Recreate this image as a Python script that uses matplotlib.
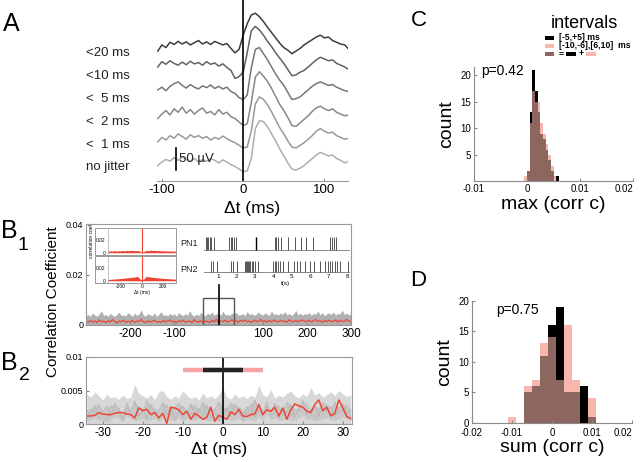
import numpy as np
import matplotlib
matplotlib.use('Agg')
import matplotlib.pyplot as plt
from matplotlib.patches import Rectangle

plt.rcParams['font.family'] = ['Liberation Sans', 'DejaVu Sans']
plt.rcParams['axes.unicode_minus'] = False

# ---------------- data ----------------
# Panel A: averaged LFP traces (uV relative to each trace baseline), lag in ms
lag_a = np.arange(-105, 131, 5)
jitter_labels = ['<20 ms', '<10 ms', '<  5 ms', '<  2 ms', '<  1 ms', 'no jitter']
trace_20 = [-12, 2, -4, 8, 3, 10, 4, 9, 2, 7, 12, 4, 9, 3, 10, 6, 2, 5, -6, -16, -8, 24, 50, 70,
            74, 66, 55, 42, 30, 18, 6, -4, -10, -18, -12, -6, 2, 8, 14, 20, 24, 18, 20, 12, 8, 4, 2, -8]
trace_10 = [-2, 10, 4, 12, 6, 2, 9, 3, 11, 5, 8, 2, 10, 4, 7, 0, 5, -3, -10, -28, -24, -14, 30, 80,
            90, 82, 70, 56, 44, 30, 18, 6, -8, -22, -20, -14, -10, -2, 6, 14, 20, 16, 12, 14, 6, 2, -2, -8]
trace_5 = [0, 6, -2, 8, 14, 18, 10, 4, 12, 6, 2, 9, 5, 11, 3, 8, 2, 6, -4, -8, -18, -22, -12, 50,
           92, 96, 82, 68, 52, 36, 22, 10, -6, -22, -20, -16, -8, 0, 8, 14, 18, 14, 10, 12, 6, 2, -2, -4]
trace_2 = [-6, 4, 12, 2, 16, 8, 20, 6, 14, 4, 12, 18, 6, 10, 2, 14, 4, 8, -2, -6, -14, -22, -18, 30,
           88, 100, 90, 78, 62, 44, 26, 12, -4, -22, -24, -16, -8, 0, 10, 18, 22, 16, 12, 16, 8, 4, 0, 2]
trace_1 = [-4, 6, 0, 10, 4, 14, 8, 2, 12, 6, 10, 4, 8, 0, 6, 2, 9, 3, -2, -6, -12, -18, -16, 20,
           82, 98, 92, 80, 64, 46, 28, 14, -2, -16, -18, -12, -6, 2, 10, 20, 26, 20, 16, 18, 10, 6, 2, 4]
trace_0 = [-6, 2, 8, 4, 12, 6, 14, 8, 4, 10, 2, 8, 4, 10, 6, 0, 7, 2, -4, -8, -14, -20, -18, 10,
           78, 96, 94, 82, 66, 50, 32, 16, 0, -14, -16, -12, -6, 2, 10, 18, 24, 20, 16, 18, 10, 6, 0, 4]
traces = [trace_20, trace_10, trace_5, trace_2, trace_1, trace_0]
trace_offsets = [307, 261, 207, 148, 93, 41]
trace_colors = ['#3a3f40', '#5d6364', '#72787a', '#84898b', '#969b9d', '#abafb1']

# Panel B1: correlation coefficient vs lag (ms)
lag_b1 = np.arange(-300, 301, 5)
red_b1 = np.array([
    1.4, 1.1, 1.8, 1.2, 1.6, 0.9, 2.0, 1.3, 1.5, 1.0,
    1.7, 1.2, 2.1, 1.4, 0.8, 1.6, 1.3, 1.9, 1.1, 1.5,
    1.2, 1.8, 1.0, 1.6, 1.4, 2.2, 1.3, 0.9, 1.7, 1.2,
    1.5, 1.9, 1.1, 1.4, 1.0, 1.8, 1.3, 1.6, 2.0, 1.2,
    1.5, 0.9, 1.7, 1.3, 1.9, 1.1, 1.4, 1.6, 1.0, 2.1,
    1.3, 1.2, 1.7, 0.8, 1.5, 1.4, 1.0, 1.8, 1.2, 2.3,
    1.0, 1.6, 1.4, 1.9, 1.2, 1.5, 2.1, 1.3, 1.7, 1.1,
    1.8, 1.4, 2.0, 1.2, 1.6, 1.0, 1.9, 1.5, 1.3, 2.2,
    1.4, 1.7, 1.1, 1.8, 1.3, 2.0, 1.5, 1.2, 1.9, 1.4,
    1.6, 1.1, 2.1, 1.5, 1.3, 1.8, 1.2, 1.7, 2.0, 1.4,
    1.5, 1.9, 1.2, 1.6, 2.2, 1.3, 1.8, 1.1, 1.7, 1.4,
    1.9, 1.3, 1.6, 2.0, 1.2, 1.8, 1.5, 1.4, 2.1, 1.6,
    1.3]) * 1e-3
env_b1 = np.array([
    3.6, 4.2, 3.4, 4.8, 3.9, 3.5, 4.4, 5.6, 3.8, 4.1,
    3.5, 4.6, 3.9, 3.3, 4.3, 5.1, 3.7, 4.0, 3.6, 4.9,
    4.2, 3.5, 4.7, 3.8, 4.4, 6.0, 3.9, 3.6, 4.5, 4.0,
    3.7, 4.8, 3.4, 4.2, 5.3, 3.8, 4.1, 3.6, 4.6, 3.9,
    4.4, 3.5, 5.0, 4.1, 3.7, 4.5, 3.9, 5.7, 4.0, 3.6,
    4.3, 3.8, 4.9, 4.2, 3.6, 4.7, 4.1, 5.2, 3.9, 4.4,
    4.6, 3.8, 5.5, 4.0, 4.3, 3.7, 4.8, 4.2, 5.0, 3.9,
    4.1, 4.5, 3.7, 5.4, 4.0, 4.6, 3.8, 4.2, 5.1, 4.4,
    3.9, 4.7, 4.3, 3.8, 5.6, 4.1, 4.5, 3.9, 4.8, 4.2,
    5.3, 4.0, 4.6, 3.8, 4.4, 5.8, 4.1, 4.7, 3.9, 4.5,
    4.2, 5.0, 3.8, 4.6, 4.3, 5.5, 4.0, 4.9, 3.7, 4.4,
    4.8, 4.1, 5.2, 3.9, 4.6, 4.3, 5.9, 4.2, 4.7, 4.0,
    4.3]) * 1e-3
zoom_window = [-35, 35]
zoom_height = 0.0105

# Insets (cross-correlograms)
lag_ins = np.arange(-320, 321, 20)
ins_pn1 = np.array([2.5, 3.0, 2.6, 3.4, 2.8, 3.2, 2.9, 3.6, 3.1, 3.8, 3.3, 4.0, 3.5, 3.2, 3.9, 2.0, 0.5,
                    2.2, 3.8, 3.4, 4.1, 3.6, 3.9, 3.2, 3.7, 3.0, 3.4, 2.8, 3.1, 2.6, 2.9, 2.4, 2.7]) * 1e-3
ins_pn2 = np.array([2.0, 2.3, 2.6, 2.8, 3.1, 3.4, 3.6, 3.9, 4.3, 4.6, 5.0, 5.4, 5.8, 6.3, 6.8, 3.0, 1.0,
                    3.2, 6.9, 6.4, 6.0, 5.5, 5.1, 4.8, 4.4, 4.1, 3.8, 3.5, 3.3, 3.1, 2.9, 2.7, 2.5]) * 1e-3

# Raster spike times (s)
spikes_pn1 = [0.33, 0.40, 0.47, 0.55, 0.62, 0.80, 1.57, 1.68, 1.76, 1.85, 1.97, 3.08, 4.07, 4.15,
              4.25, 4.43, 4.80, 5.16, 5.50, 5.80, 6.15, 7.07, 7.20, 7.30, 7.42]
spikes_pn2 = [0.64, 0.72, 0.92, 1.73, 1.81, 2.02, 2.46, 2.52, 2.58, 2.64, 2.70, 2.76, 2.84, 2.92,
              3.00, 3.18, 4.00, 4.08, 4.16, 4.24, 4.38, 4.55, 4.80, 5.10, 5.28, 5.46, 5.74, 6.00,
              6.19, 6.55, 6.80, 6.95, 7.08, 7.20, 7.35, 7.45, 7.62, 8.05]

# Panel B2
lag_b2 = np.arange(-34, 33, 1)
red_b2 = np.array([
    1.2, 1.2, 1.3, 1.7, 1.5, 1.4, 1.4, 1.6, 1.7, 1.7,
    1.5, 1.4, 0.9, 2.4, 2.0, 2.2, 1.4, 1.7, 0.9, 1.6,
    0.1, 2.5, 2.4, 2.1, 1.4, 1.9, 0.7, 1.6, 1.2, 0.7,
    1.0, 2.5, 0.4, 1.3, 1.0, 0.7, 1.8, 1.4, 2.2, 1.2,
    1.1, 1.4, 1.5, 2.9, 1.4, 2.1, 1.9, 2.5, 1.2, 2.4,
    0.7, 2.1, 3.0, 2.7, 2.5, 1.9, 1.7, 2.9, 3.6, 2.0,
    2.5, 1.2, 1.6, 3.6, 2.4, 1.1, 0.8]) * 1e-3
env_b2 = np.array([
    4.5, 4.0, 4.8, 4.2, 3.6, 4.4, 3.9, 4.1, 3.7, 4.3,
    3.8, 4.0, 5.9, 4.6, 4.2, 3.9, 4.4, 3.6, 4.8, 5.0,
    4.1, 3.7, 4.2, 3.9, 5.0, 4.3, 3.8, 4.1, 3.6, 4.6,
    3.9, 4.2, 3.8, 4.4, 5.4, 4.0, 3.7, 4.5, 3.9, 4.2,
    3.8, 4.3, 4.0, 5.8, 4.4, 4.1, 5.1, 3.9, 4.3, 4.0,
    4.6, 4.9, 4.2, 3.9, 4.5, 4.1, 5.5, 4.3, 4.7, 4.0,
    4.4, 4.8, 4.2, 5.0, 4.5, 4.1, 4.3]) * 1e-3
gray_b2_a = np.array([
    2.1, 1.4, 2.8, 0.9, 1.9, 2.6, 1.2, 3.1, 1.7, 0.6,
    2.4, 1.8, 3.4, 1.1, 2.2, 0.8, 2.9, 1.5, 2.0, 3.2,
    1.3, 2.5, 0.7, 1.9, 2.7, 1.6, 3.0, 1.0, 2.3, 1.4,
    2.8, 0.9, 2.1, 3.3, 1.5, 2.4, 1.1, 2.9, 1.8, 0.6,
    2.6, 1.3, 3.6, 2.0, 1.2, 2.7, 1.7, 3.1, 0.9, 2.2,
    1.6, 2.9, 1.0, 2.5, 3.5, 1.4, 2.1, 2.8, 1.2, 3.2,
    1.9, 2.6, 1.1, 2.4, 3.0, 1.5, 2.2]) * 1e-3
gray_b2_b = np.array([
    0.8, 2.3, 1.6, 3.0, 1.2, 0.5, 2.7, 1.9, 2.4, 1.0,
    3.2, 1.5, 0.9, 2.6, 1.8, 3.5, 1.3, 2.2, 0.7, 1.7,
    2.9, 1.1, 2.5, 3.1, 0.8, 2.0, 1.4, 2.8, 1.6, 3.3,
    1.0, 2.4, 1.7, 0.6, 2.6, 1.9, 3.2, 1.2, 2.5, 2.0,
    1.4, 3.0, 0.9, 2.3, 1.7, 3.4, 1.1, 2.0, 2.7, 1.3,
    3.3, 1.0, 2.2, 1.8, 2.6, 3.0, 1.5, 0.9, 2.4, 1.7,
    2.9, 1.2, 3.4, 1.6, 2.1, 2.8, 1.0]) * 1e-3
inner_interval = [-5, 5]
outer_interval = [-10, 10]
interval_level = 0.008

# Panel C: histogram of max corr
edges_c = np.arange(-0.0005, 0.00601, 0.0005)
black_c = [0, 2, 13, 21, 17, 13, 9, 8, 6, 4, 2, 0, 1]
pink_c = [1, 2, 11, 17, 15, 15, 11, 9, 7, 5, 3, 1, 0]
# Panel D: histogram of sum corr
edges_d = np.arange(-0.011, 0.01101, 0.002)
black_d = [0, 0, 5, 6, 11, 16, 19, 5, 5, 6, 1]
pink_d = [1, 0, 6, 7, 13, 14, 7, 16, 7, 0, 4]

RED = '#ee4433'
PINK = '#f8b7ae'
BROWN = '#8d6660'
SP = '#8a8a8a'

# ---------------- figure ----------------
W, H = 640, 462
fig = plt.figure(figsize=(6.4, 4.62), dpi=100)


def rect(l, t, r, b):
    return [l / W, 1 - b / H, (r - l) / W, (b - t) / H]


# Panel A
axA = fig.add_axes(rect(157, 0, 348, 181))
for vals, off, col in zip(traces, trace_offsets, trace_colors):
    axA.plot(lag_a, np.array(vals) + off, color=col, lw=1.1)
axA.axvline(0, color='k', lw=1.2)
axA.plot([-83, -83], [25, 75], color='k', lw=1.2)
axA.text(-79, 50, '50 µV', fontsize=9.5, va='center', ha='left', color='#222')
axA.set_xlim(-106, 129)
axA.set_ylim(0, 411)
for s in ['left', 'top', 'right']:
    axA.spines[s].set_visible(False)
axA.spines['bottom'].set_color('#999')
axA.set_yticks([])
axA.set_xticks([-100, 0, 100])
axA.tick_params(axis='x', labelsize=9.5, length=2, direction='in', color='#999', pad=2)
axA.set_xlabel('Δt (ms)', fontsize=12.5, labelpad=4)

# Panel B1
axB1 = fig.add_axes(rect(86, 224, 351, 325))
axB1.fill_between(lag_b1, 0, env_b1, color='#b0b0b0', lw=0)
axB1.plot(lag_b1, red_b1, color=RED, lw=0.9)
axB1.add_patch(Rectangle((zoom_window[0], 0), zoom_window[1] - zoom_window[0], zoom_height,
                         fill=False, ec='#555', lw=1))
axB1.plot([0, 0], [0, 0.016], color='k', lw=1.2)
axB1.set_xlim(-300, 300)
axB1.set_ylim(0, 0.04)
axB1.set_yticks([0, 0.02, 0.04])
axB1.set_yticklabels(['0', '0.02', '0.04'])
axB1.set_xticks([-200, -100, 100, 200, 300])
axB1.tick_params(axis='y', labelsize=6.5, length=2, direction='in', color=SP, pad=2)
axB1.tick_params(axis='x', labelsize=8.5, length=2, direction='in', color=SP, pad=2)
for s in axB1.spines.values():
    s.set_color('#999')

# Insets
axI1 = fig.add_axes(rect(108, 229, 176, 254))
axI2 = fig.add_axes(rect(108, 257, 176, 282))
for ax, vals in ((axI1, ins_pn1), (axI2, ins_pn2)):
    ax.fill_between(lag_ins, 0, vals, color=RED, lw=0)
    ax.plot([0, 0], [0, 0.038], color=RED, lw=0.8)
    ax.set_xlim(-320, 320)
    ax.set_ylim(-0.002, 0.038)
    for s in ['top', 'right', 'bottom']:
        ax.spines[s].set_visible(False)
    ax.spines['left'].set_color('#aaa')
    ax.spines['left'].set_linewidth(0.5)
    ax.set_yticks([0, 0.02])
    ax.set_yticklabels(['0', '0.02'])
    ax.tick_params(labelsize=3.5, length=1, pad=0.8, width=0.4, color='#888')
axI1.set_xticks([])
axI2.set_xticks([-200, 0, 200])
axI1.set_ylabel('correlation coef', fontsize=3.5, labelpad=1)
axI2.set_xlabel('Δt (ms)', fontsize=3.5, labelpad=0.5)

# Raster
axR = fig.add_axes(rect(204, 236, 350, 273))
axR.set_xlim(0.24, 8.16)
axR.set_ylim(0, 1)
axR.axhline(0.62, color='#777', lw=0.6)
axR.axhline(0.03, color='#777', lw=0.6)
axR.vlines(spikes_pn1, 0.62, 0.97, color='#555', lw=0.7)
axR.vlines([spikes_pn1[11]], 0.62, 0.97, color='k', lw=1.0)
axR.vlines(spikes_pn2, 0.03, 0.33, color='#555', lw=0.7)
for s in axR.spines.values():
    s.set_visible(False)
axR.set_yticks([])
axR.set_xticks(range(1, 9))
axR.tick_params(axis='x', labelsize=4.5, length=0, pad=1)

# Panel B2
axB2 = fig.add_axes(rect(86, 357, 352, 424))
axB2.fill_between(lag_b2, 0, env_b2, color='#d8d8d8', lw=0)
axB2.fill_between(lag_b2, np.minimum(gray_b2_a, gray_b2_b) * 0.5,
                  np.maximum(gray_b2_a, gray_b2_b), color='#c8c8c8', lw=0)
axB2.plot(lag_b2, gray_b2_a, color='#b4b4b4', lw=0.6)
axB2.plot(lag_b2, gray_b2_b, color='#bcbcbc', lw=0.6)
axB2.plot(lag_b2, red_b2, color=RED, lw=1.1)
axB2.axvline(0, color='k', lw=1.2)
axB2.plot(outer_interval, [interval_level] * 2, color='#f5a3a3', lw=3.2, solid_capstyle='butt')
axB2.plot(inner_interval, [interval_level] * 2, color='#222', lw=3.2, solid_capstyle='butt')
axB2.set_xlim(-34.2, 32.3)
axB2.set_ylim(0, 0.01)
axB2.set_yticks([0, 0.005, 0.01])
axB2.set_yticklabels(['0', '0.005', '0.01'])
axB2.set_xticks([-30, -20, -10, 0, 10, 20, 30])
axB2.tick_params(axis='y', labelsize=6.5, length=2, direction='in', color=SP, pad=2)
axB2.tick_params(axis='x', labelsize=8.5, length=2, direction='in', color=SP, pad=2)
for s in axB2.spines.values():
    s.set_color('#999')
axB2.set_xlabel('Δt (ms)', fontsize=12.5, labelpad=2)


def hist_panel(ax, edges, black, pink):
    w = np.diff(edges)
    ax.bar(edges[:-1], pink, width=w, align='edge', color=PINK, lw=0)
    ax.bar(edges[:-1], black, width=w, align='edge', color='k', lw=0)
    ax.bar(edges[:-1], np.minimum(black, pink), width=w, align='edge', color=BROWN, lw=0)
    for s in ['top', 'right']:
        ax.spines[s].set_visible(False)
    for s in ['left', 'bottom']:
        ax.spines[s].set_color(SP)
        ax.spines[s].set_linewidth(0.8)
    ax.tick_params(labelsize=7, length=2, direction='in', color=SP, pad=2)


# Panel C
axC = fig.add_axes(rect(474, 67, 633, 181.5))
hist_panel(axC, edges_c, black_c, pink_c)
axC.set_xlim(-0.01, 0.02)
axC.set_ylim(0, 21.5)
axC.set_yticks([5, 10, 15, 20])
axC.set_xticks([-0.01, 0, 0.01, 0.02])
axC.set_xticklabels(['-0.01', '0', '0.01', '0.02'])
axC.get_xticklabels()[-1].set_horizontalalignment('right')
axC.set_xlabel('max (corr c)', fontsize=14, labelpad=1)
axC.set_ylabel('count', fontsize=14, labelpad=4)

# Panel D
axD = fig.add_axes(rect(472, 300.7, 632, 422.7))
hist_panel(axD, edges_d, black_d, pink_d)
axD.set_xlim(-0.02, 0.02)
axD.set_ylim(0, 20)
axD.set_yticks([0, 5, 10, 15, 20])
axD.set_xticks([-0.02, -0.01, 0, 0.01, 0.02])
axD.set_xticklabels(['-0.02', '-0.01', '0', '0.01', '0.02'])
axD.get_xticklabels()[-1].set_horizontalalignment('right')
axD.tick_params(axis='x', pad=3.5)
axD.set_xlabel('sum (corr c)', fontsize=14, labelpad=1)
axD.set_ylabel('count', fontsize=14, labelpad=4)

# Overlay for annotations (pixel coordinates)
ov = fig.add_axes([0, 0, 1, 1])
ov.set_xlim(0, W)
ov.set_ylim(H, 0)
ov.axis('off')

ov.text(11, 24, 'A', fontsize=18, ha='center', va='center')
ov.text(9, 231, 'B', fontsize=18, ha='center', va='center')
ov.text(23, 246, '1', fontsize=14, ha='center', va='center')
ov.text(9, 363, 'B', fontsize=18, ha='center', va='center')
ov.text(24, 375, '2', fontsize=14, ha='center', va='center')
ov.text(419, 20, 'C', fontsize=16, ha='center', va='center')
ov.text(418, 280, 'D', fontsize=16, ha='center', va='center')

label_y = [53, 76, 99, 122, 145, 167]
for lab, y in zip(jitter_labels, label_y):
    ov.text(130, y, lab, fontsize=9.5, ha='right', va='center', color='#222')

ov.text(53, 302, 'Correlation Coefficient', fontsize=11, rotation=90, ha='center', va='center')

# inset frames
ov.add_patch(Rectangle((95, 228), 81, 27, fill=False, ec='#999', lw=0.7))
ov.add_patch(Rectangle((95, 256), 81, 27, fill=False, ec='#999', lw=0.7))
ov.text(198, 243, 'PN1', fontsize=6.5, ha='right', va='center', color='#222')
ov.text(198, 270, 'PN2', fontsize=6.5, ha='right', va='center', color='#222')
ov.text(285, 284, 't(s)', fontsize=4.5, ha='center', va='center')

# panel C legend
ov.text(584, 24, 'intervals', fontsize=13, ha='center', va='center')
ov.add_patch(Rectangle((545, 36), 9, 4, color='k', lw=0))
ov.text(559, 38, '[-5,+5] ms', fontsize=6.2, ha='left', va='center', fontweight='bold')
ov.add_patch(Rectangle((545, 44), 9, 4, color=PINK, lw=0))
ov.text(559, 46, '[-10,-6],[6,10]  ms', fontsize=6.2, ha='left', va='center', fontweight='bold')
ov.add_patch(Rectangle((545, 51.5), 9, 4, color=BROWN, lw=0))
ov.text(561, 53.5, '=', fontsize=6.2, ha='center', va='center', fontweight='bold')
ov.add_patch(Rectangle((566, 51.5), 10, 4, color='k', lw=0))
ov.text(581, 53.5, '+', fontsize=6.2, ha='center', va='center', fontweight='bold')
ov.add_patch(Rectangle((586, 51.5), 10, 4, color=PINK, lw=0))

ov.text(503, 71, 'p=0.42', fontsize=10, ha='center', va='center')
ov.text(517, 310, 'p=0.75', fontsize=10, ha='center', va='center')

fig.savefig('out.png', dpi=100)
